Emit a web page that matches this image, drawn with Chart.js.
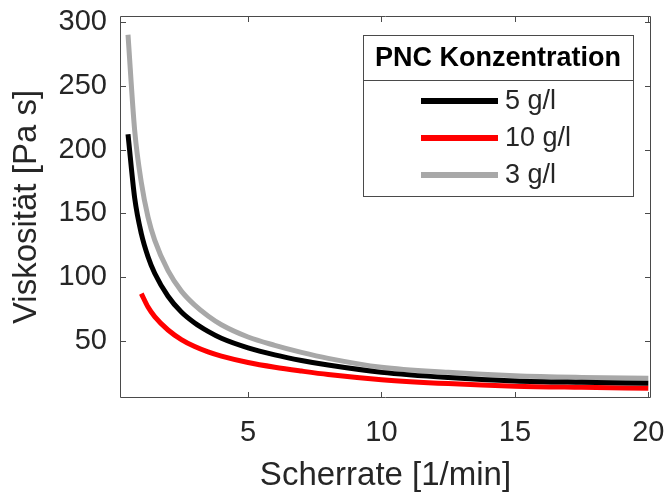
<html>
<head>
<title>Viskosität</title>
<style>
body { margin: 0; background: #fff; }
#box { width: 665px; height: 492px; }
</style>
</head>
<body>
<div id="box"><canvas id="myChart"></canvas></div>
<script src="https://cdn.jsdelivr.net/npm/chart.js@4/dist/chart.umd.min.js"></script>
<script>
// shear rate [1/min]
var shearRate = [0.5, 0.75, 1, 1.25, 1.5, 2, 2.5, 3, 3.5, 4, 5, 6, 7, 8, 10, 12.5, 15, 17.5, 20];
var shearRateRed = [1, 1.25, 1.5, 2, 2.5, 3, 3.5, 4, 5, 6, 7, 8, 10, 12.5, 15, 17.5, 20];
// viscosity [Pa s]
var visc5 = [212, 162, 134, 116, 103, 85, 72.6, 64, 57.4, 52, 44.5, 39, 34.6, 31, 25.3, 21.2, 18.6, 17.5, 16.8];
var visc10 = [87, 76.5, 69, 58.5, 51, 45.5, 41.3, 38, 33, 29.3, 26.3, 23.6, 19.6, 16.5, 14.5, 13.6, 12.9];
var visc3 = [290, 215, 174, 147, 129, 105, 89, 78, 69.5, 62.6, 53, 46.5, 41, 36.3, 29.3, 25.3, 22.6, 21.3, 20.6];
var seriesLabels = ['5 g/l', '10 g/l', '3 g/l'];
var seriesColors = ['#000000', '#ff0000', '#a8a8a8'];
var xTicks = [5, 10, 15, 20];
var yTicks = [50, 100, 150, 200, 250, 300];

var FONT = "'Liberation Sans', Arial, sans-serif";
var TEXT = '#262626';

function pts(xs, ys) {
    return xs.map(function(x, i) { return { x: x, y: ys[i] }; });
}

// MATLAB-like box with inward ticks
var axesBox = {
    id: 'axesBox',
    afterDatasetsDraw: function(chart) {
        var ctx = chart.ctx, a = chart.chartArea;
        var sx = chart.scales.x, sy = chart.scales.y;
        ctx.save();
        ctx.strokeStyle = '#4a4a4a';
        ctx.lineWidth = 1;
        ctx.beginPath();
        ctx.rect(a.left + 0.5, a.top + 0.5, a.right - a.left - 1, a.bottom - a.top - 1);
        xTicks.forEach(function(v) {
            var p = Math.round(sx.getPixelForValue(v)) + 0.5;
            ctx.moveTo(p, a.bottom); ctx.lineTo(p, a.bottom - 6);
            ctx.moveTo(p, a.top); ctx.lineTo(p, a.top + 6);
        });
        yTicks.forEach(function(v) {
            var p = Math.round(sy.getPixelForValue(v)) + 0.5;
            ctx.moveTo(a.left, p); ctx.lineTo(a.left + 6, p);
            ctx.moveTo(a.right, p); ctx.lineTo(a.right - 6, p);
        });
        ctx.stroke();
        ctx.restore();
    }
};

// legend with title box
var boxLegend = {
    id: 'boxLegend',
    afterDraw: function(chart) {
        var ctx = chart.ctx;
        var left = 363, top = 35, w = 270, h = 161, sep = 80;
        ctx.save();
        ctx.fillStyle = '#fff';
        ctx.fillRect(left, top, w, h);
        ctx.strokeStyle = '#4a4a4a';
        ctx.lineWidth = 1;
        ctx.strokeRect(left + 0.5, top + 0.5, w, h);
        ctx.beginPath();
        ctx.moveTo(left, sep + 0.5); ctx.lineTo(left + w, sep + 0.5);
        ctx.stroke();
        ctx.fillStyle = '#000';
        ctx.font = 'bold 27px ' + FONT;
        ctx.textAlign = 'center';
        ctx.textBaseline = 'middle';
        ctx.fillText('PNC Konzentration', left + w / 2, 59);
        ctx.font = '27px ' + FONT;
        ctx.textAlign = 'left';
        chart.data.datasets.forEach(function(ds, i) {
            var y = 101 + i * 37;
            ctx.strokeStyle = ds.borderColor;
            ctx.lineWidth = 6;
            ctx.beginPath();
            ctx.moveTo(421, y); ctx.lineTo(498, y);
            ctx.stroke();
            ctx.fillStyle = TEXT;
            ctx.fillText(ds.label, 505, y + 1);
        });
        ctx.restore();
    }
};

var ctx = document.getElementById('myChart');
var chart = new Chart(ctx, {
    type: 'line',
    data: {
        datasets: [
            { label: seriesLabels[0], data: pts(shearRate, visc5), borderColor: seriesColors[0] },
            { label: seriesLabels[1], data: pts(shearRateRed, visc10), borderColor: seriesColors[1] },
            { label: seriesLabels[2], data: pts(shearRate, visc3), borderColor: seriesColors[2] }
        ]
    },
    options: {
        responsive: true,
        maintainAspectRatio: false,
        animation: false,
        layout: { padding: { top: 16, right: 14, left: 0, bottom: 0 } },
        elements: {
            point: { radius: 0 },
            line: { borderWidth: 5, cubicInterpolationMode: 'monotone', fill: false }
        },
        plugins: { legend: { display: false }, tooltip: { enabled: false } },
        scales: {
            x: {
                type: 'linear', min: 0.2, max: 20.1,
                afterBuildTicks: function(s) { s.ticks = xTicks.map(function(v) { return { value: v }; }); },
                afterFit: function(s) { s.height = 94; s.paddingLeft = 0; s.paddingRight = 0; },
                grid: { display: false, drawTicks: false },
                border: { display: false },
                ticks: { autoSkip: false, maxRotation: 0, padding: 18, color: TEXT, font: { family: FONT, size: 29 } },
                title: { display: true, text: 'Scherrate [1/min]', color: TEXT, padding: 0,
                         font: { family: FONT, size: 33, lineHeight: 1 } }
            },
            y: {
                type: 'linear', min: 5.2, max: 304.7,
                afterBuildTicks: function(s) { s.ticks = yTicks.map(function(v) { return { value: v }; }); },
                afterFit: function(s) { s.width = 120; s.paddingTop = 0; s.paddingBottom = 0; },
                grid: { display: false, drawTicks: false },
                border: { display: false },
                ticks: { autoSkip: false, padding: 13, color: TEXT, font: { family: FONT, size: 29 } },
                title: { display: true, text: 'Viskosität [Pa s]', color: TEXT, padding: { top: 10, bottom: 0 },
                         font: { family: FONT, size: 33, lineHeight: 1 } }
            }
        }
    },
    plugins: [axesBox, boxLegend]
});
</script>
</body>
</html>
